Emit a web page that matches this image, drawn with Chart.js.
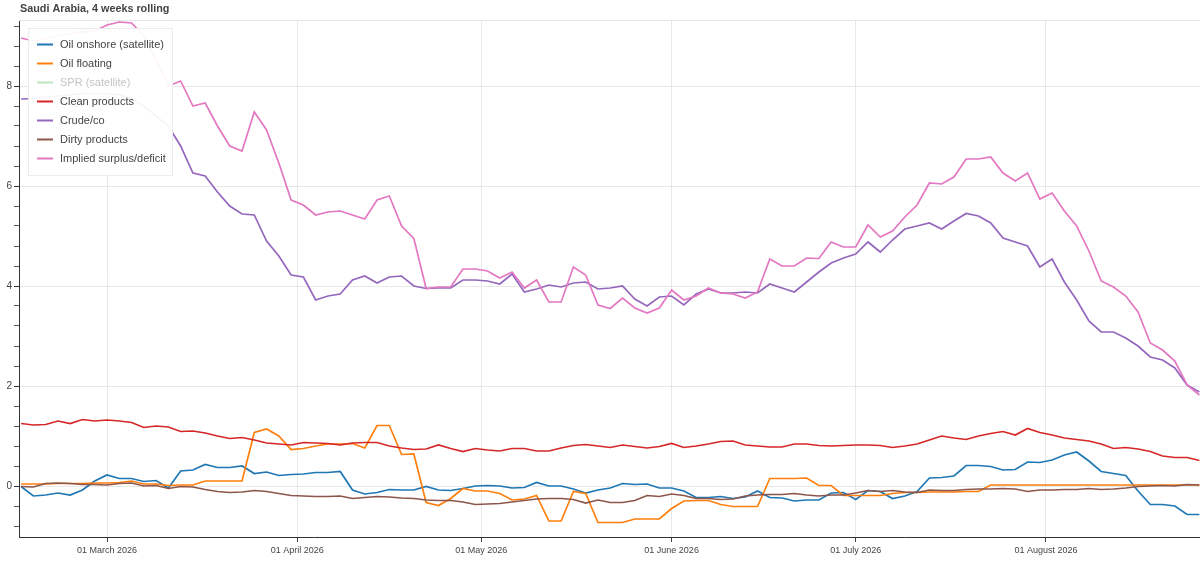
<!DOCTYPE html>
<html>
<head>
<meta charset="utf-8">
<title>Saudi Arabia, 4 weeks rolling</title>
<script src="https://cdn.jsdelivr.net/npm/chart.js@4.4.1/dist/chart.umd.min.js"></script>
<style>
  html, body { margin: 0; padding: 0; background: #fff; }
  #wrap { width: 1200px; height: 562px; }
</style>
</head>
<body>
<div id="wrap"><canvas id="myChart" width="1200" height="562"></canvas></div>
<script>
// one value every second day, starting 15 Feb 2026 (day-of-year, 1 Jan = 0)
const firstDay = 45;
const stepDays = 2;

const onshore = [
  -0.01, -0.2, -0.18, -0.14, -0.18, -0.08, 0.1, 0.22, 0.15, 0.15,
  0.09, 0.11, -0.04, 0.3, 0.32, 0.43, 0.37, 0.37, 0.4, 0.25,
  0.28, 0.21, 0.23, 0.24, 0.27, 0.27, 0.29, -0.08, -0.16, -0.13,
  -0.07, -0.08, -0.08, -0.01, -0.08, -0.09, -0.05, 0.0, 0.01, 0.0,
  -0.04, -0.03, 0.07, 0.0, 0.0, -0.06, -0.14, -0.08, -0.04, 0.05,
  0.03, 0.04, -0.04, -0.04, -0.1, -0.23, -0.23, -0.21, -0.25, -0.22,
  -0.1, -0.23, -0.24, -0.3, -0.28, -0.28, -0.14, -0.13, -0.27, -0.09,
  -0.11, -0.25, -0.2, -0.11, 0.16, 0.17, 0.2, 0.41, 0.41, 0.39,
  0.32, 0.33, 0.48, 0.47, 0.52, 0.62, 0.68, 0.5, 0.29, 0.25,
  0.21, -0.1, -0.37, -0.37, -0.4, -0.57, -0.57
];
const floating = [
  0.04, 0.04, 0.04, 0.05, 0.05, 0.05, 0.06, 0.06, 0.07, 0.1,
  0.04, 0.04, 0.01, 0.02, 0.02, 0.1, 0.1, 0.1, 0.1, 1.07,
  1.14, 1.0, 0.73, 0.75, 0.8, 0.84, 0.84, 0.85, 0.76, 1.21,
  1.21, 0.63, 0.64, -0.33, -0.39, -0.25, -0.05, -0.1, -0.1, -0.15,
  -0.28, -0.26, -0.19, -0.7, -0.7, -0.11, -0.15, -0.73, -0.73, -0.73,
  -0.66, -0.66, -0.66, -0.45, -0.3, -0.29, -0.29, -0.37, -0.41, -0.41,
  -0.41, 0.15, 0.15, 0.15, 0.16, 0.01, 0.01, -0.19, -0.19, -0.19,
  -0.19, -0.15, -0.13, -0.13, -0.12, -0.12, -0.12, -0.11, -0.11, 0.02,
  0.02, 0.02, 0.02, 0.02, 0.02, 0.02, 0.02, 0.02, 0.02, 0.02,
  0.02, 0.02, 0.02, 0.02, 0.02, 0.02, 0.02
];
const spr = []; // hidden in the legend, nothing drawn
const clean = [
  1.25, 1.22, 1.23, 1.3, 1.25, 1.33, 1.3, 1.32, 1.3, 1.27,
  1.17, 1.2, 1.18, 1.09, 1.1, 1.06, 1.0, 0.95, 0.97, 0.92,
  0.86, 0.84, 0.82, 0.87, 0.86, 0.85, 0.82, 0.86, 0.87, 0.87,
  0.8, 0.76, 0.73, 0.74, 0.82, 0.75, 0.69, 0.75, 0.72, 0.7,
  0.75, 0.75, 0.7, 0.7, 0.76, 0.81, 0.83, 0.8, 0.77, 0.82,
  0.79, 0.76, 0.79, 0.85, 0.77, 0.8, 0.84, 0.89, 0.9, 0.82,
  0.8, 0.78, 0.78, 0.84, 0.84, 0.81, 0.8, 0.81, 0.82, 0.82,
  0.81, 0.77, 0.8, 0.84, 0.92, 1.0, 0.96, 0.93, 1.0, 1.05,
  1.09, 1.02, 1.15, 1.07, 1.02, 0.96, 0.93, 0.9, 0.84, 0.75,
  0.77, 0.74, 0.69, 0.6, 0.57, 0.57, 0.51
];
const crude = [
  7.74, 7.75, 7.78, 7.8, 7.82, 7.85, 7.85, 7.85, 7.82, 7.75,
  7.6, 7.4, 7.2, 6.8, 6.26, 6.2, 5.88, 5.6, 5.44, 5.42,
  4.9, 4.6, 4.22, 4.18, 3.72, 3.8, 3.84, 4.12, 4.2, 4.06,
  4.18, 4.2, 4.0, 3.95, 3.96, 3.96, 4.12, 4.12, 4.1, 4.04,
  4.24, 3.88, 3.94, 4.02, 3.98, 4.06, 4.08, 3.94, 3.96, 4.0,
  3.74, 3.6, 3.78, 3.8, 3.62, 3.84, 3.94, 3.86, 3.86, 3.88,
  3.86, 4.04, 3.96, 3.88, 4.08, 4.28, 4.46, 4.56, 4.64, 4.88,
  4.68, 4.92, 5.14, 5.2, 5.26, 5.14, 5.3, 5.45, 5.4, 5.26,
  4.96, 4.88, 4.8, 4.38, 4.54, 4.08, 3.72, 3.3, 3.08, 3.08,
  2.96, 2.8, 2.58, 2.52, 2.36, 2.02, 1.88
];
const dirty = [
  -0.01, -0.02, 0.05, 0.06, 0.05, 0.03, 0.03, 0.02, 0.05, 0.06,
  0.0, 0.01, -0.05, -0.01, -0.02, -0.07, -0.11, -0.13, -0.12, -0.09,
  -0.11, -0.15, -0.19, -0.2, -0.21, -0.21, -0.2, -0.25, -0.23, -0.21,
  -0.22, -0.24, -0.25, -0.28, -0.29, -0.29, -0.32, -0.37, -0.36, -0.35,
  -0.32, -0.29, -0.26, -0.25, -0.25, -0.27, -0.34, -0.28, -0.33, -0.33,
  -0.29, -0.19, -0.21, -0.16, -0.19, -0.25, -0.25, -0.27, -0.26, -0.2,
  -0.18, -0.17, -0.17, -0.15, -0.18, -0.2, -0.18, -0.18, -0.14, -0.09,
  -0.11, -0.09, -0.12, -0.13, -0.08, -0.09, -0.09, -0.07, -0.06, -0.06,
  -0.05, -0.06, -0.11, -0.08, -0.08, -0.07, -0.07, -0.05, -0.07, -0.06,
  -0.04, -0.01, 0.0, 0.01, 0.0, 0.03, 0.02
];
const implied = [
  8.96, 8.9, 8.95, 9.0, 9.05, 9.08, 9.1, 9.22, 9.28, 9.26,
  9.0, 8.5, 8.0, 8.1, 7.6, 7.66, 7.2, 6.8, 6.7, 7.48,
  7.12, 6.46, 5.72, 5.62, 5.42, 5.48, 5.5, 5.42, 5.34, 5.72,
  5.8, 5.2, 4.95, 3.95, 3.98, 3.98, 4.34, 4.34, 4.3, 4.16,
  4.28, 3.96, 4.12, 3.68, 3.68, 4.38, 4.22, 3.62, 3.55, 3.76,
  3.56, 3.46, 3.56, 3.92, 3.72, 3.8, 3.96, 3.86, 3.84, 3.76,
  3.88, 4.54, 4.4, 4.4, 4.56, 4.55, 4.88, 4.78, 4.78, 5.22,
  4.98, 5.1, 5.38, 5.62, 6.06, 6.04, 6.18, 6.54, 6.54, 6.58,
  6.26, 6.1, 6.26, 5.74, 5.86, 5.5, 5.2, 4.7, 4.1, 3.98,
  3.8, 3.48, 2.86, 2.72, 2.5, 2.02, 1.82
];

const days = implied.map((_, i) => firstDay + i * stepDays);

const monthTicks = [59, 90, 120, 151, 181, 212];
const monthLabels = ['01 March 2026', '01 April 2026', '01 May 2026',
                     '01 June 2026', '01 July 2026', '01 August 2026'];
const yMajor = [0, 2, 4, 6, 8];

const names = ['Oil onshore (satellite)', 'Oil floating', 'SPR (satellite)',
               'Clean products', 'Crude/co', 'Dirty products', 'Implied surplus/deficit'];
const series = [onshore, floating, spr, clean, crude, dirty, implied];
const colors = ['#1f77b4', '#ff7f0e', '#2ca02c', '#d62728', '#9467bd', '#8c564b', '#e377c2'];

Chart.defaults.font.family = '"Liberation Sans", Arial, sans-serif';
Chart.defaults.color = '#444';

const titlePlugin = {
  id: 'plotTitle',
  afterDraw(chart) {
    const c = chart.ctx;
    c.save();
    c.font = 'bold 10.8px "Liberation Sans", Arial, sans-serif';
    c.fillStyle = '#444';
    c.textBaseline = 'middle';
    c.fillText('Saudi Arabia, 4 weeks rolling', 20, 9);
    c.restore();
  }
};

const frame = {
  id: 'frame',
  beforeDatasetsDraw(chart) {
    const a = chart.chartArea, c = chart.ctx;
    c.save();
    c.strokeStyle = '#e6e6e6';
    c.lineWidth = 1;
    c.beginPath();
    c.moveTo(a.left, a.top + 0.5);
    c.lineTo(a.right, a.top + 0.5);
    c.stroke();
    c.restore();
  }
};

const boxLegend = {
  id: 'boxLegend',
  afterDatasetsDraw(chart) {
    const c = chart.ctx;
    const x0 = 28, y0 = 28, w = 144, h = 147;
    c.save();
    c.fillStyle = 'rgba(255,255,255,0.93)';
    c.fillRect(x0, y0, w, h);
    c.strokeStyle = '#ececec';
    c.lineWidth = 1;
    c.strokeRect(x0 + 0.5, y0 + 0.5, w, h);
    c.font = '11px "Liberation Sans", Arial, sans-serif';
    c.textBaseline = 'middle';
    chart.data.datasets.forEach((ds, i) => {
      const y = y0 + 16.5 + i * 19;
      c.globalAlpha = ds.hidden ? 0.3 : 1;
      c.strokeStyle = ds.borderColor;
      c.lineWidth = 2;
      c.beginPath();
      c.moveTo(x0 + 9, y);
      c.lineTo(x0 + 25, y);
      c.stroke();
      c.globalAlpha = 1;
      c.fillStyle = ds.hidden ? '#c4c4c4' : '#444';
      c.fillText(ds.label, x0 + 32, y + 0.5);
    });
    c.restore();
  }
};

new Chart(document.getElementById('myChart'), {
  type: 'line',
  data: {
    datasets: series.map((arr, i) => ({
      label: names[i],
      data: arr.map((v, j) => ({ x: days[j], y: v })),
      borderColor: colors[i],
      borderWidth: 1.7,
      pointRadius: 0,
      tension: 0,
      hidden: arr.length === 0,
      order: series.length - i
    }))
  },
  options: {
    responsive: false,
    animation: false,
    events: [],
    layout: { padding: { top: 20, left: 0, right: 0, bottom: 0 } },
    plugins: {
      legend: { display: false },
      tooltip: { enabled: false },
      title: { display: false }
    },
    scales: {
      x: {
        type: 'linear',
        min: 44.66,
        max: 237.1,
        afterBuildTicks: s => { s.ticks = monthTicks.map(v => ({ value: v })); },
        afterFit: s => { s.height = 25; },
        ticks: {
          autoSkip: false,
          maxRotation: 0,
          padding: 3.5,
          font: { size: 9 },
          color: '#444',
          callback: v => monthLabels[monthTicks.indexOf(v)]
        },
        grid: { color: '#e8e8e8', tickColor: '#444', tickLength: 5 },
        border: { color: '#333', width: 1 }
      },
      y: {
        type: 'linear',
        min: -1.02,
        max: 9.32,
        afterBuildTicks: s => {
          const t = [];
          for (let k = -2; k <= 23; k++) t.push({ value: Math.round(k * 0.4 * 10) / 10 });
          s.ticks = t;
        },
        afterFit: s => { s.width = 19; },
        ticks: {
          padding: 2,
          font: { size: 10 },
          color: '#444',
          callback: v => (yMajor.includes(v) ? String(v) : '')
        },
        grid: {
          color: ctx => (yMajor.includes(ctx.tick && ctx.tick.value) ? '#e8e8e8' : 'rgba(0,0,0,0)'),
          tickColor: ctx => (yMajor.includes(ctx.tick && ctx.tick.value) ? '#333' : '#555'),
          tickLength: 5
        },
        border: { color: '#333', width: 1 }
      }
    }
  },
  plugins: [frame, boxLegend, titlePlugin]
});
</script>
</body>
</html>
